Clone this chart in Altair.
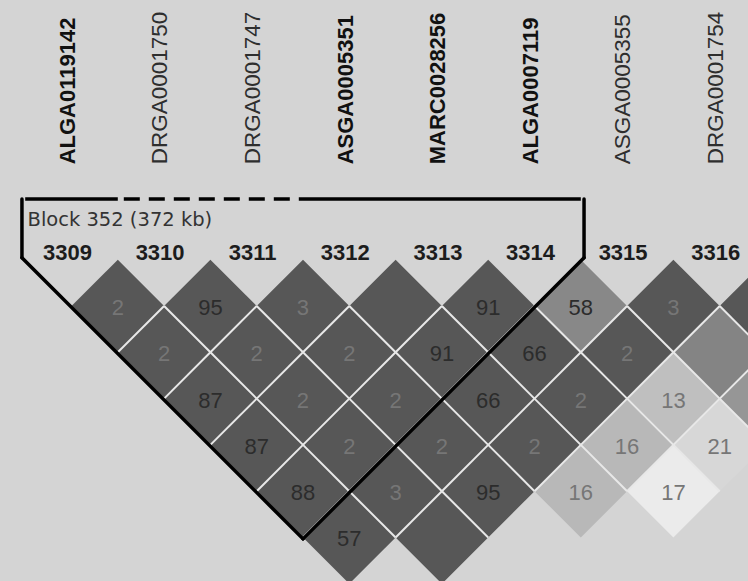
import itertools
import altair as alt
import pandas as pd

# ---------------- data ----------------
marker_names = ["ALGA0119142", "DRGA0001750", "DRGA0001747", "ASGA0005351",
                "MARC0028256", "ALGA0007119", "ASGA0005355", "DRGA0001754"]
marker_ids = [3309, 3310, 3311, 3312, 3313, 3314, 3315, 3316]
marker_in_block = [1, 0, 0, 1, 1, 1, 0, 0]

# LD cells: pair (first marker index, second marker index), printed value, shade strength
cell_first = [0, 1, 2, 3, 4, 5, 6, 7,
              0, 1, 2, 3, 4, 5, 6,
              0, 1, 2, 3, 4, 5, 6,
              0, 1, 2, 3, 4, 5,
              0, 1, 2, 3, 4,
              0, 1]
cell_second = [1, 2, 3, 4, 5, 6, 7, 8,
               2, 3, 4, 5, 6, 7, 8,
               3, 4, 5, 6, 7, 8, 9,
               4, 5, 6, 7, 8, 9,
               5, 6, 7, 8, 9,
               6, 7]
cell_text = ["2", "95", "3", "", "91", "58", "3", "",
             "2", "2", "2", "91", "66", "2", "",
             "87", "2", "2", "66", "2", "13", "",
             "87", "2", "2", "2", "16", "21",
             "88", "3", "95", "16", "17",
             "57", ""]
cell_strength = [1, 1, 1, 1, 1, 0.69, 1, 1,
                 1, 1, 1, 1, 1, 1, 0.71,
                 1, 1, 1, 1, 1, 0.36, 0.60,
                 1, 1, 1, 1, 0.40, 0.22,
                 1, 1, 1, 0.40, 0.11,
                 1, 1]

block_first = 0
block_last = 5
block_label = "Block 352 (372 kb)"

# ---------------- tables ----------------
markers = pd.DataFrame({"idx": range(len(marker_names)), "name": marker_names,
                        "num": [str(m) for m in marker_ids], "inblock": marker_in_block})

cells = pd.DataFrame({"i": cell_first, "j": cell_second, "txt": cell_text,
                      "strength": cell_strength})
cells["x"] = (cells["i"] + cells["j"]) / 2.0
cells["y"] = (cells["j"] - cells["i"]) / 2.0
cells["val"] = pd.to_numeric(cells["txt"], errors="coerce").fillna(0)

# shared edges between neighbouring cells (white separators)
present = set(zip(cell_first, cell_second))
edges = []
for (i, j) in present:
    cx, cy = (i + j) / 2.0, (j - i) / 2.0
    if (i, j + 1) in present:
        edges.append({"x": cx + 0.5, "y": cy, "x2": cx, "y2": cy + 0.5})
    if (i - 1, j) in present:
        edges.append({"x": cx - 0.5, "y": cy, "x2": cx, "y2": cy + 0.5})
edges = pd.DataFrame(edges)

# block outline
off = 0.535
top = -0.656
sh = -0.02
s, e = block_first, block_last
bx, by = (s + e) / 2.0, (e - s) / 2.0 + off - 0.02
outline = pd.DataFrame([
    {"x": s - off, "y": top, "x2": s - off, "y2": sh},
    {"x": s - off, "y": sh, "x2": bx, "y2": by},
    {"x": bx, "y": by, "x2": e + off, "y2": sh},
    {"x": e + off, "y": sh, "x2": e + off, "y2": top},
])
top_segs = []
for flag, grp in itertools.groupby(range(s, e + 1), key=lambda k: marker_in_block[k]):
    g = list(grp)
    x0 = max(g[0] - 0.5, s - off)
    x1 = min(g[-1] + 0.5, e + off)
    top_segs.append({"x": x0, "y": top, "x2": x1, "y2": top, "solid": flag})
top_segs = pd.DataFrame(top_segs)

label_df = pd.DataFrame({"x": [s - 0.475], "y": [-0.425], "t": [block_label]})

# ---------------- scales ----------------
xs = alt.Scale(domain=[-0.7721, 7.3056], nice=False, zero=False)
ys = alt.Scale(domain=[-2.8045, 3.4698], nice=False, zero=False, reverse=True)
X = lambda f="x": alt.X(f + ":Q", scale=xs, axis=None)
Y = lambda f="y": alt.Y(f + ":Q", scale=ys, axis=None)

diamonds = alt.Chart(cells).mark_point(
    shape="diamond", filled=True, size=8575, opacity=1, strokeWidth=0, clip=True
).encode(
    x=X(), y=Y(),
    color=alt.Color("strength:Q", scale=alt.Scale(domain=[0, 1], range=["#ffffff", "#575757"]),
                    legend=None),
)

sep = alt.Chart(edges).mark_rule(color="#e8e8e8", strokeWidth=2, clip=True).encode(
    x=X(), y=Y(), x2="x2:Q", y2="y2:Q")

cell_labels = alt.Chart(cells).mark_text(
    font="Liberation Sans", fontSize=22, baseline="middle", align="center", dy=2, clip=True
).encode(
    x=X(), y=Y(), text="txt:N",
    color=alt.condition("datum.val >= 50", alt.value("#2c2c2c"), alt.value("#767676")),
)

outline_c = alt.Chart(outline).mark_rule(color="#000000", strokeWidth=3.5, strokeCap="round").encode(
    x=X(), y=Y(), x2="x2:Q", y2="y2:Q")

top_solid = alt.Chart(top_segs).transform_filter("datum.solid == 1").mark_rule(
    color="#000000", strokeWidth=3.5).encode(x=X(), y=Y(), x2="x2:Q", y2="y2:Q")
top_dash = alt.Chart(top_segs).transform_filter("datum.solid == 0").mark_rule(
    color="#000000", strokeWidth=3.5, strokeDash=[16, 9], strokeDashOffset=-6).encode(
    x=X(), y=Y(), x2="x2:Q", y2="y2:Q")

block_text = alt.Chart(label_df).mark_text(
    font="DejaVu Sans", fontSize=19.5, align="left", baseline="middle", color="#333333"
).encode(x=X(), y=Y(), text="t:N")

num_labels = alt.Chart(markers).transform_calculate(yy="-0.07").mark_text(
    font="Liberation Sans", fontWeight="bold", fontSize=22, align="center",
    baseline="middle", dx=-4, color="#1c1c1c"
).encode(x=X("idx"), y=Y("yy"), text="num:N")

name_base = alt.Chart(markers).transform_calculate(xx="datum.idx - 0.04", yy="-1.03")
names_bold = name_base.transform_filter("datum.inblock == 1").mark_text(
    font="Liberation Sans", fontWeight="bold", fontSize=22, angle=270, align="left",
    baseline="middle", color="#111111"
).encode(x=X("xx"), y=Y("yy"), text="name:N")
names_reg = name_base.transform_filter("datum.inblock == 0").mark_text(
    font="Liberation Sans", fontSize=22.5, angle=270, align="left",
    baseline="middle", color="#2e2e2e"
).encode(x=X("xx"), y=Y("yy"), text="name:N")

chart = alt.layer(
    diamonds, sep, cell_labels, outline_c, top_solid, top_dash,
    block_text, num_labels, names_bold, names_reg
).properties(
    width=748, height=581, autosize=alt.AutoSizeParams(type="none"), padding=0,
    background="#d4d4d4"
).configure_view(stroke=None)

chart.save("out.html", embed_options={"renderer": "svg", "actions": False})
